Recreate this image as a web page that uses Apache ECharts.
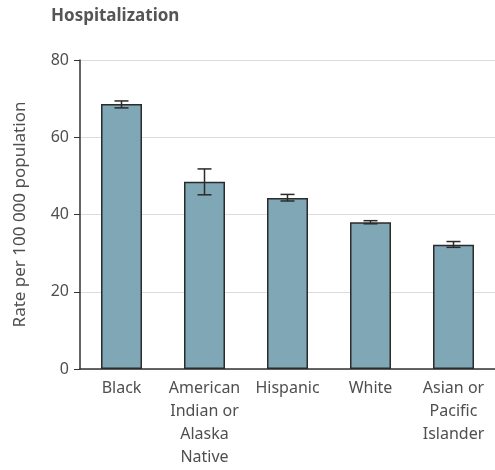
<!DOCTYPE html>
<html style="height: 100%">
<head>
<meta charset="utf-8">
<script src="https://cdn.jsdelivr.net/npm/echarts@6/dist/echarts.min.js"></script>
</head>
<body style="height: 100%; margin: 0; background: #fff">
<div id="container" style="width: 495px; height: 470px"></div>
<script type="text/javascript">
var categories = ['Black', 'American\nIndian or\nAlaska\nNative', 'Hispanic', 'White', 'Asian or\nPacific\nIslander'];
var rates = [68.6, 48.5, 44.3, 38.0, 32.2];
var lowerCI = [67.6, 45.1, 43.5, 37.6, 31.5];
var upperCI = [69.4, 51.8, 45.2, 38.4, 33.0];
var yTicks = [0, 20, 40, 60, 80];

var font = '"Noto Sans", "Open Sans", sans-serif';
var txt = '#4f4f4f';
var myChart = echarts.init(document.getElementById('container'));

var errData = categories.map(function (c, i) {
    return [i, lowerCI[i], upperCI[i]];
});

myChart.setOption({
    animation: false,
    title: {
        text: 'Hospitalization',
        left: 46, top: 3,
        textStyle: { fontFamily: font, fontSize: 17, fontWeight: 'bold', color: '#555' }
    },
    grid: { left: 80, right: 0, top: 60, bottom: 101 },
    xAxis: {
        type: 'category',
        data: categories,
        axisLine: { lineStyle: { color: '#333', width: 1.5 } },
        axisTick: { show: false },
        axisLabel: { fontFamily: font, fontSize: 16, color: txt, lineHeight: 23, margin: 8, interval: 0 }
    },
    yAxis: {
        type: 'value',
        min: yTicks[0], max: yTicks[yTicks.length - 1], interval: 20,
        name: 'Rate per 100 000 population',
        nameLocation: 'middle',
        nameGap: 51,
        nameTextStyle: { fontFamily: font, fontSize: 17, color: txt },
        axisLine: { show: true, lineStyle: { color: '#333', width: 1.5 } },
        axisTick: { show: true, length: 6, lineStyle: { color: '#333' } },
        axisLabel: { fontFamily: font, fontSize: 16, color: txt, margin: 11 },
        splitLine: { lineStyle: { color: '#dcdcdc' } }
    },
    series: [{
        type: 'bar',
        data: rates,
        barWidth: 41,
        itemStyle: { color: '#7fa7b6', borderColor: '#2b2b2b', borderWidth: 1.5 }
    }, {
        type: 'custom',
        data: errData,
        z: 10,
        renderItem: function (params, api) {
            var lo = api.coord([api.value(0), api.value(1)]);
            var hi = api.coord([api.value(0), api.value(2)]);
            var w = 7;
            var st = { stroke: '#2b2b2b', lineWidth: 1.5 };
            return {
                type: 'group',
                children: [
                    { type: 'line', shape: { x1: lo[0], y1: lo[1], x2: hi[0], y2: hi[1] }, style: st },
                    { type: 'line', shape: { x1: lo[0] - w, y1: lo[1], x2: lo[0] + w, y2: lo[1] }, style: st },
                    { type: 'line', shape: { x1: hi[0] - w, y1: hi[1], x2: hi[0] + w, y2: hi[1] }, style: st }
                ]
            };
        }
    }]
});
</script>
</body>
</html>
